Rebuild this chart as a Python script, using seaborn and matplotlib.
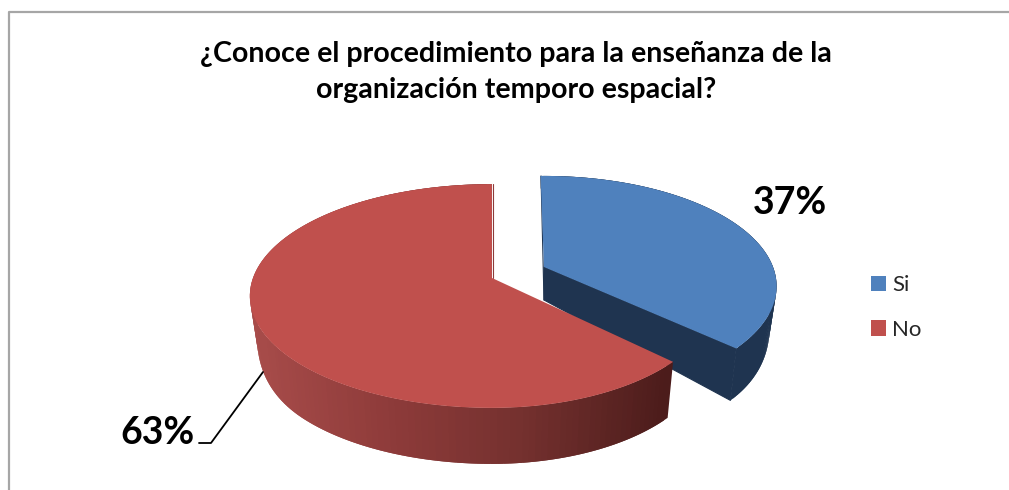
import numpy as np
import seaborn as sns
from matplotlib import pyplot as plt
from matplotlib.patches import Patch, Polygon

labels = ["Si", "No"]
values = [37, 63]
top_colors = ["#4F81BD", "#C0504D"]
title = "¿Conoce el procedimiento para la enseñanza de la\norganización temporo espacial?"

sns.set_theme(style="white")
plt.rcParams['font.family'] = ['Lato', 'DejaVu Sans']

# wall shading, left to right
wall_colors = [sns.blend_palette(["#1F3450", "#1F3450"], 100),
               sns.blend_palette(["#A84C4A", "#8E3B3A", "#73302E", "#4C1C1B"], 100)]

# each slice has its own apex (exploded apart) and its own fit of the squashed circle, pixels
apex = [(544, 267), (492, 278)]
rx_right = [229, 221]
rx_left = [229, 239]
ry = [107, 109]
persp = [0.175, 0.161]
wall_extra = [19, 23]
wall_base = 33
angle_shift = [-1, 0]


def top_plane(theta, i):
    # clockwise from 12 o'clock, ground plane with some perspective
    t = np.radians(theta)
    s = 1 / (1 + persp[i] * np.cos(t))
    rx = rx_right[i] if np.sin(t) >= 0 else rx_left[i]
    return rx * np.sin(t) * s, -ry[i] * np.cos(t) * s


def bottom_plane(theta, i):
    x, y = top_plane(theta, i)
    u = y / 85
    if u > 0:
        # wall grows towards the viewer and levels off
        u = 1 - (1 - min(u, 1)) ** 2
    return 0.97 * x, y + wall_base + wall_extra[i] * u


fig, ax = plt.subplots(figsize=(10.09, 4.9), dpi=100)
ax.set_position([0, 0, 1, 1])
ax.set_xlim(0, 1009)
ax.set_ylim(490, 0)
ax.axis("off")

# chart frame, only top and left fall inside the crop
ax.plot([1009, 9, 9], [12, 12, 490], color="#A6A6A6", lw=1.6, zorder=1)

angles = np.cumsum([0] + values) / sum(values) * 360
for i in range(len(values)):
    a0, a1 = angles[i] + angle_shift[i], angles[i + 1] + angle_shift[i]
    ax0, ay0 = apex[i]
    steps = np.linspace(a0, a1, 160)

    if i == 0:
        # cut face of the blue slice
        tx, ty = top_plane(a1, i)
        bx, by = bottom_plane(a1, i)
        ax.add_patch(Polygon([(ax0, ay0), (ax0 + tx, ay0 + ty), (ax0 + bx, ay0 + by), (ax0, ay0 + wall_base)],
                             closed=True, fc=wall_colors[i][0], ec=wall_colors[i][0], lw=0.8, zorder=2.5))
        ax.plot([ax0 - 3, ax0], [ay0 + top_plane(a0, i)[1], ay0 + wall_base], color=wall_colors[i][0], lw=0.8, zorder=2)
    else:
        ax.plot([ax0 + 0.5, ax0 + 0.5], [ay0 + top_plane(a1, i)[1], ay0], color="#8E3B3A", lw=0.8, zorder=3)

    # outer wall as narrow strips so the shading can run along x, each one overlaps the next
    xs_all = [ax0 + top_plane(a, i)[0] for a in steps]
    xmin, xmax = min(xs_all), max(xs_all)
    for j in range(len(steps) - 2):
        a, b = steps[j], steps[j + 2]
        tx0, ty0 = top_plane(a, i)
        tx1, ty1 = top_plane(b, i)
        bx0, by0 = bottom_plane(a, i)
        bx1, by1 = bottom_plane(b, i)
        frac = (ax0 + tx0 - xmin) / (xmax - xmin)
        c = wall_colors[i][int(np.clip(frac, 0, 0.999) * 100)]
        ax.add_patch(Polygon([(ax0 + tx0, ay0 + ty0), (ax0 + tx1, ay0 + ty1),
                              (ax0 + bx1, ay0 + by1), (ax0 + bx0, ay0 + by0)],
                             closed=True, fc=c, ec="none", zorder=2 + i * 2))

    # top face
    pts = [(ax0, ay0)] + [(ax0 + top_plane(a, i)[0], ay0 + top_plane(a, i)[1]) for a in steps]
    ax.add_patch(Polygon(pts, closed=True, fc=top_colors[i], ec="none", zorder=3 + i * 2))

ax.text(516, 72, title, ha="center", va="center", fontsize=20.6, fontweight="bold",
        color="black", linespacing=1.45)

pct = [f"{v / sum(values):.0%}" for v in values]
ax.text(790, 203, pct[0], ha="center", va="center", fontsize=27, fontweight="bold", color="black")
ax.text(158, 433, pct[1], ha="center", va="center", fontsize=27, fontweight="bold", color="black")
ax.plot([199, 211, 263], [443, 443, 372], color="black", lw=1.3, zorder=7)

handles = [Patch(fc=c, ec="none", label=l) for c, l in zip(top_colors, labels)]
ax.legend(handles=handles, loc="center left", bbox_to_anchor=(871 / 1009, 1 - 307.5 / 490),
          frameon=False, fontsize=16, handlelength=0.675, handleheight=0.675,
          handletextpad=0.27, labelspacing=1.1, borderpad=0, borderaxespad=0)

fig.savefig("out.png", dpi=100)
